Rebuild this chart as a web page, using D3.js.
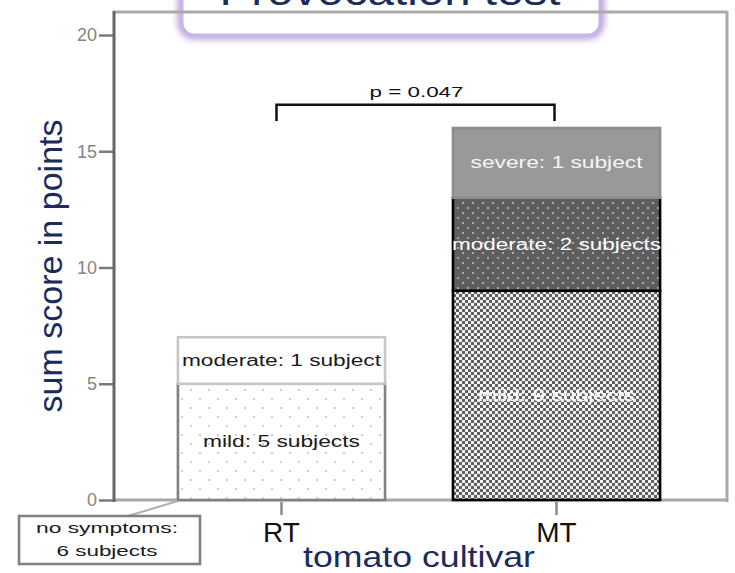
<!DOCTYPE html>
<html>
<head>
<meta charset="utf-8">
<script src="https://cdn.jsdelivr.net/npm/d3@7"></script>
<style>
  html, body { margin: 0; padding: 0; background: #fff; }
  svg { display: block; font-family: "Liberation Sans", Arial, sans-serif; }
</style>
</head>
<body>
<svg id="chart" width="735" height="573"></svg>
<script>
// Provocation test: symptom sum scores per tomato cultivar
const cultivars = ["RT", "MT"];
const severityLevels = ["mild", "moderate", "severe"];
const pointsPerSubject = [1, 2, 3];          // mild, moderate, severe
const mildSubjects = [5, 9];
const moderateSubjects = [1, 2];
const severeSubjects = [0, 1];
const noSymptomSubjects = [6, 0];
const yTicks = [0, 5, 10, 15, 20];
const pValueText = "p = 0.047";

const navy = "#1d2b5c";
const svg = d3.select("#chart");
const defs = svg.append("defs");

// subject counts per cultivar -> stacked point table
const subjectsByLevel = { mild: mildSubjects, moderate: moderateSubjects, severe: severeSubjects };
const table = cultivars.map((c, i) => {
  const row = { cultivar: c };
  severityLevels.forEach((lvl, j) => { row[lvl] = subjectsByLevel[lvl][i] * pointsPerSubject[j]; });
  return row;
});
const series = d3.stack().keys(severityLevels)(table);

// scales
const x = d3.scaleBand().domain(cultivars).range([110, 728]).paddingInner(0.247).paddingOuter(0.247);
const y = d3.scaleLinear().domain([0, 20]).range([500, 35]);

// fill patterns
const pLight = defs.append("pattern").attr("id", "dotsLight").attr("patternUnits", "userSpaceOnUse")
  .attr("width", 18).attr("height", 18);
pLight.append("rect").attr("width", 18).attr("height", 18).attr("fill", "#fff");
[[1, 2], [10, 11]].forEach(([a, b]) => pLight.append("rect").attr("x", a).attr("y", b)
  .attr("width", 2).attr("height", 2).attr("fill", "#cfcfcf"));

const pDark = defs.append("pattern").attr("id", "dotsDark").attr("patternUnits", "userSpaceOnUse")
  .attr("width", 10).attr("height", 10);
pDark.append("rect").attr("width", 10).attr("height", 10).attr("fill", "#5e5e5e");
[[2, 2], [7, 7]].forEach(([a, b]) => pDark.append("rect").attr("x", a).attr("y", b)
  .attr("width", 2).attr("height", 2).attr("fill", "#a9a9a9"));

const pCheck = defs.append("pattern").attr("id", "checker").attr("patternUnits", "userSpaceOnUse")
  .attr("width", 6).attr("height", 6);
pCheck.append("rect").attr("width", 6).attr("height", 6).attr("fill", "#5f5f5f");
[[0, 0], [3, 3]].forEach(([a, b]) => pCheck.append("rect").attr("x", a).attr("y", b)
  .attr("width", 3).attr("height", 3).attr("fill", "#f2f2f2"));

// soft glow for the title box
const glow = defs.append("filter").attr("id", "glow").attr("x", "-10%").attr("y", "-50%")
  .attr("width", "120%").attr("height", "200%");
glow.append("feGaussianBlur").attr("stdDeviation", 3);

// segment styles
const segStyle = {
  "RT-mild":     { fill: "url(#dotsLight)", stroke: "#808080", text: "#1a1a1a" },
  "RT-moderate": { fill: "#ffffff",         stroke: "#c6c6c6", text: "#1a1a1a" },
  "MT-mild":     { fill: "url(#checker)",   stroke: "#000000", text: "#ffffff" },
  "MT-moderate": { fill: "url(#dotsDark)",  stroke: "#000000", text: "#ffffff" },
  "MT-severe":   { fill: "#999999",         stroke: "#8c8c8c", text: "#f6f6f6" }
};
const labelWidth = {
  "RT-mild": 157, "RT-moderate": 199, "MT-mild": 157, "MT-moderate": 209, "MT-severe": 172
};

// title box (top edge runs off the page)
const titleG = svg.append("g");
titleG.append("rect").attr("x", 182).attr("y", -30).attr("width", 418).attr("height", 65).attr("rx", 12)
  .attr("fill", "none").attr("stroke", "#b9a2de").attr("stroke-width", 9).attr("filter", "url(#glow)");
titleG.append("rect").attr("x", 182).attr("y", -30).attr("width", 418).attr("height", 65).attr("rx", 12)
  .attr("fill", "#fff").attr("stroke", "#c7b5e6").attr("stroke-width", 3);
titleG.append("text").attr("x", 390).attr("y", 5).attr("text-anchor", "middle")
  .attr("font-size", 40).attr("fill", navy)
  .attr("textLength", 341).attr("lengthAdjust", "spacingAndGlyphs")
  .text("Provocation test");

// plot frame
const frame = svg.append("g");
frame.append("line").attr("x1", 113).attr("x2", 727).attr("y1", 12).attr("y2", 12)
  .attr("stroke", "#aaaaaa").attr("stroke-width", 3);
frame.append("line").attr("x1", 727).attr("x2", 727).attr("y1", 11).attr("y2", 502)
  .attr("stroke", "#aaaaaa").attr("stroke-width", 3);
frame.append("line").attr("x1", 113).attr("x2", 728).attr("y1", y(0)).attr("y2", y(0))
  .attr("stroke", "#a8a8a8").attr("stroke-width", 3);

// bars
const segs = [];
series.forEach((s) => {
  s.forEach((d) => {
    if (d[1] - d[0] > 0) segs.push({ level: s.key, cultivar: d.data.cultivar, y0: d[0], y1: d[1] });
  });
});
const segG = svg.append("g");
segG.selectAll("rect").data(segs).join("rect")
  .attr("x", d => x(d.cultivar))
  .attr("y", d => y(d.y1))
  .attr("width", x.bandwidth())
  .attr("height", d => y(d.y0) - y(d.y1))
  .attr("fill", d => segStyle[d.cultivar + "-" + d.level].fill)
  .attr("stroke", d => segStyle[d.cultivar + "-" + d.level].stroke)
  .attr("stroke-width", 2.6);

// segment labels
const subjectsOf = (d) => subjectsByLevel[d.level][cultivars.indexOf(d.cultivar)];
segG.selectAll("text").data(segs).join("text")
  .attr("x", d => x(d.cultivar) + x.bandwidth() / 2)
  .attr("y", d => y((d.y0 + d.y1) / 2))
  .attr("dy", "0.35em")
  .attr("text-anchor", "middle")
  .attr("font-size", 16)
  .attr("fill", d => segStyle[d.cultivar + "-" + d.level].text)
  .attr("textLength", d => labelWidth[d.cultivar + "-" + d.level])
  .attr("lengthAdjust", "spacingAndGlyphs")
  .text(d => {
    const n = subjectsOf(d);
    return `${d.level}: ${n} ${n === 1 ? "subject" : "subjects"}`;
  });

// y axis
const yAxis = svg.append("g").attr("transform", "translate(114,0)")
  .call(d3.axisLeft(y).tickValues(yTicks).tickSize(15).tickPadding(2));
yAxis.select(".domain").remove();
yAxis.selectAll(".tick line").attr("stroke", "#7a7a7a").attr("stroke-width", 2.5);
yAxis.selectAll(".tick text").attr("font-size", 18).attr("fill", "#858585")
  .attr("font-family", "Liberation Sans, Arial, sans-serif");
svg.append("line").attr("x1", 114).attr("x2", 114).attr("y1", 11).attr("y2", 502)
  .attr("stroke", "#666666").attr("stroke-width", 3);

// x axis
const xAxis = svg.append("g").attr("transform", `translate(0,${y(0) + 2})`)
  .call(d3.axisBottom(x).tickSize(13).tickPadding(7));
xAxis.select(".domain").remove();
xAxis.selectAll(".tick line").attr("stroke", "#8a8a8a").attr("stroke-width", 2.5);
xAxis.selectAll(".tick text").attr("font-size", 28).attr("fill", "#111")
  .attr("font-family", "Liberation Sans, Arial, sans-serif");

// axis titles
svg.append("text")
  .attr("transform", "translate(62,266) rotate(-90)")
  .attr("text-anchor", "middle").attr("font-size", 34).attr("fill", navy)
  .attr("textLength", 293).attr("lengthAdjust", "spacingAndGlyphs")
  .text("sum score in points");
svg.append("text")
  .attr("x", 419).attr("y", 567).attr("text-anchor", "middle")
  .attr("font-size", 29).attr("fill", navy)
  .attr("textLength", 232).attr("lengthAdjust", "spacingAndGlyphs")
  .text("tomato cultivar");

// significance bracket
const bx0 = x("RT") + x.bandwidth() / 2 - 5;
const bx1 = x("MT") + x.bandwidth() / 2 - 2;
const by = y(17), byEnd = y(16.3);
svg.append("path")
  .attr("d", `M${bx0},${byEnd}V${by}H${bx1}V${byEnd}`)
  .attr("fill", "none").attr("stroke", "#111").attr("stroke-width", 2.5);
svg.append("text").attr("x", (bx0 + bx1) / 2 + 1).attr("y", y(17.35))
  .attr("text-anchor", "middle").attr("font-size", 14).attr("fill", "#111")
  .attr("textLength", 94).attr("lengthAdjust", "spacingAndGlyphs")
  .text(pValueText);

// "no symptoms" callout for RT
const rtLeft = x("RT");
svg.append("line").attr("x1", 128).attr("y1", 516).attr("x2", rtLeft).attr("y2", y(0) + 1)
  .attr("stroke", "#b0b0b0").attr("stroke-width", 2);
svg.append("rect").attr("x", 19).attr("y", 516).attr("width", 181).attr("height", 48)
  .attr("fill", "#fff").attr("stroke", "#808080").attr("stroke-width", 2.6);
const note = svg.append("text").attr("text-anchor", "middle").attr("font-size", 15).attr("fill", "#1a1a1a");
note.append("tspan").attr("x", 107).attr("y", 533)
  .attr("textLength", 142).attr("lengthAdjust", "spacingAndGlyphs").text("no symptoms:");
note.append("tspan").attr("x", 107).attr("y", 556)
  .attr("textLength", 101).attr("lengthAdjust", "spacingAndGlyphs")
  .text(`${noSymptomSubjects[0]} subjects`);
</script>
</body>
</html>
